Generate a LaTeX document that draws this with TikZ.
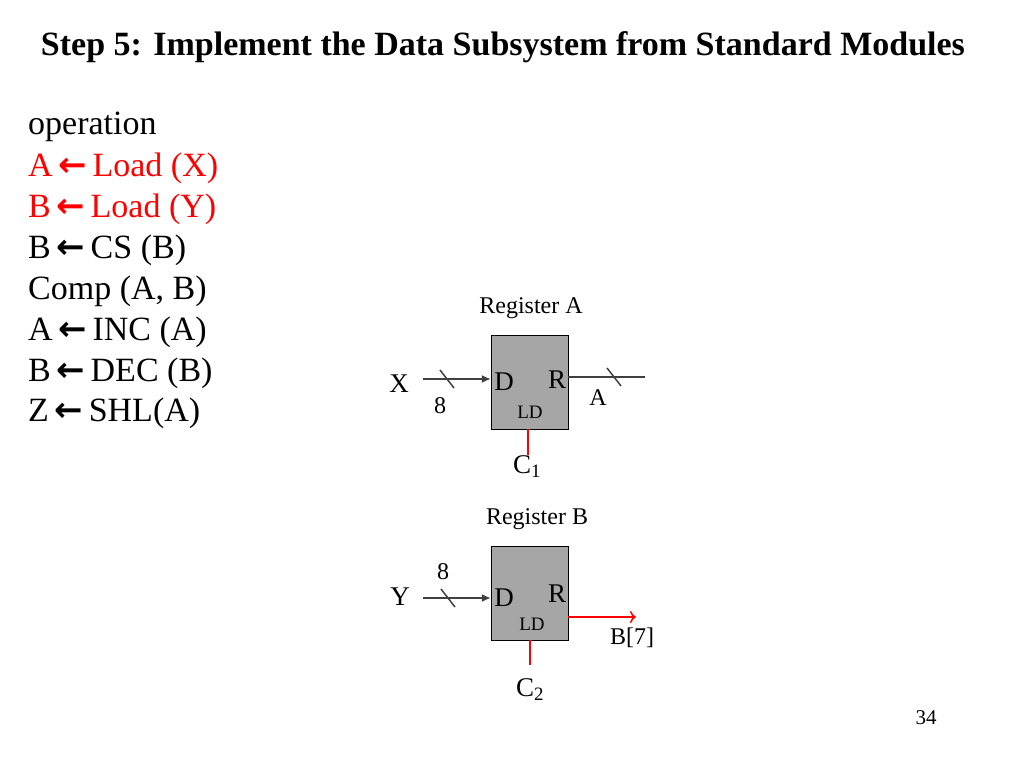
\documentclass[tikz,border=0pt]{standalone}
\usepackage{fontspec}
\usetikzlibrary{arrows.meta}
\setmainfont{Liberation Serif}
\newfontfamily\arrfont{DejaVu Sans}
\newcommand{\la}{\,{\arrfont\bfseries ←}\,}
\begin{document}
\begin{tikzpicture}[x=1pt,y=-1pt,
  reg/.style={draw=black,fill=black!35,minimum width=77pt,minimum height=94pt,inner sep=0pt},
  lt/.style={anchor=west,font=\fontsize{34}{36}\selectfont,inner sep=0pt},
  pin/.style={font=\fontsize{27}{29}\selectfont,inner sep=0pt},
  sm/.style={font=\fontsize{24}{26}\selectfont,inner sep=0pt},
  ld/.style={font=\fontsize{19}{21}\selectfont,inner sep=0pt},
  wire/.style={draw=black!75,line width=1.5pt},
  rwire/.style={draw=red,line width=1.5pt}]
\useasboundingbox (0,0) rectangle (1024,768);
\node[font=\bfseries\fontsize{34}{36}\selectfont,inner sep=0pt] (title) at (503,47) {Step 5: Implement the Data Subsystem from Standard Modules};
\node[lt] (l1) at (28,127) {operation};
\node[lt,red] (l2) at (28,168) {A\la Load (X)};
\node[lt,red] (l3) at (28,209) {B\la Load (Y)};
\node[lt] (l4) at (28,250) {B\la CS (B)};
\node[lt] (l5) at (28,291) {Comp (A, B)};
\node[lt] (l6) at (28,332) {A\la INC (A)};
\node[lt] (l7) at (28,373) {B\la DEC (B)};
\node[lt] (l8) at (28,413) {Z\la SHL(A)};
% Register A
\node[sm] (ra) at (531,308) {Register A};
\node[reg] (A) at (529.5,382) {};
\node[pin] (AD) at (504,382) {D};
\node[pin] (AR) at (557,380) {R};
\node[ld] (ALD) at (530,412) {LD};
\node[pin] (X) at (399,384) {X};
\coordinate (xs) at (423,379);
\draw[wire,-{Latex[length=9pt,width=8pt]}] (xs) -- (A.west |- xs);
\draw[wire] (440,370) -- (454,388);
\node[sm] (a8) at (440,406) {8};
\coordinate (ae) at (645,377);
\draw[wire] (A.east |- ae) -- (ae);
\draw[wire] (607,368) -- (621,386);
\node[sm] (Aout) at (598,398) {A};
\coordinate (c1e) at (528,455);
\draw[rwire] (A.south -| c1e) -- (c1e);
\node[pin] (C1) at (527,467) {C\textsubscript{1}};
% Register B
\node[sm] (rb) at (537,519) {Register B};
\node[reg] (B) at (529.5,593) {};
\node[pin] (BD) at (504,598) {D};
\node[pin] (BR) at (557,594) {R};
\node[ld] (BLD) at (532,624) {LD};
\node[pin] (Y) at (400,597) {Y};
\coordinate (ys) at (423,598);
\draw[wire,-{Latex[length=9pt,width=8pt]}] (ys) -- (B.west |- ys);
\draw[wire] (441,589) -- (455,607);
\node[sm] (b8) at (443,572) {8};
\coordinate (be) at (636,617);
\draw[rwire,-{To[length=6pt,width=12pt]}] (B.east |- be) -- (be);
\node[sm] (B7) at (632,638) {B[7]};
\coordinate (c2e) at (530,665);
\draw[rwire] (B.south -| c2e) -- (c2e);
\node[pin] (C2) at (530,690) {C\textsubscript{2}};
\node[font=\fontsize{21}{23}\selectfont,inner sep=0pt] (pg) at (926,718) {34};
\end{tikzpicture}
\end{document}
